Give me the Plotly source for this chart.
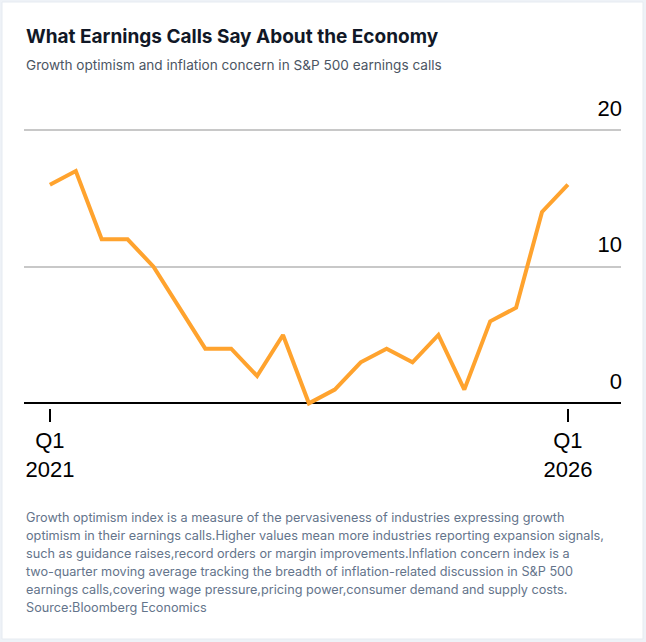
import plotly.graph_objects as go

# quarterly growth optimism index
quarters = [
    "Q1 2021", "Q2 2021", "Q3 2021", "Q4 2021",
    "Q1 2022", "Q2 2022", "Q3 2022", "Q4 2022",
    "Q1 2023", "Q2 2023", "Q3 2023", "Q4 2023",
    "Q1 2024", "Q2 2024", "Q3 2024", "Q4 2024",
    "Q1 2025", "Q2 2025", "Q3 2025", "Q4 2025",
    "Q1 2026",
]
growth_optimism = [16, 17, 12, 12, 10, 7, 4, 4, 2, 5, 0, 1, 3, 4, 3, 5, 1, 6, 7, 14, 16]

y_ticks = [0, 10, 20]
x_ticks = ["Q1 2021", "Q1 2026"]
x_tick_text = ["Q1<br>2021", "Q1<br>2026"]

TITLE = "What Earnings Calls Say About the Economy"
SUBTITLE = "Growth optimism and inflation concern in S&P 500 earnings calls"
NOTE_LINES = [
    "Growth optimism index is a measure of the pervasiveness of industries expressing growth",
    "optimism in their earnings calls.Higher values mean more industries reporting expansion signals,",
    "such as guidance raises,record orders or margin improvements.Inflation concern index is a",
    "two-quarter moving average tracking the breadth of inflation-related discussion in S&P 500",
    "earnings calls,covering wage pressure,pricing power,consumer demand and supply costs.",
    "Source:Bloomberg Economics",
]

W, H = 646, 642
M_L, M_R, M_T, M_B = 24, 25, 80, 234
plot_h = H - M_T - M_B
PX_PER_UNIT = 13.665  # 0 sits at row 403.3, 20 at row 130


def py(pix):
    # pixel row -> paper y
    return (H - M_B - pix) / plot_h


def px(pix):
    return (pix - M_L) / (W - M_L - M_R)


fig = go.Figure()
fig.add_trace(go.Scatter(
    x=quarters,
    y=growth_optimism,
    mode="lines",
    line=dict(color="#FFA32E", width=4),
    hoverinfo="skip",
    showlegend=False,
))

# white card
fig.add_shape(type="rect", xref="paper", yref="paper",
              x0=px(2), x1=px(643), y0=py(639), y1=py(2),
              fillcolor="white", line=dict(color="#e6ebf1", width=1), layer="below")

fig.add_annotation(text="<b>" + TITLE + "</b>", xref="paper", yref="paper",
                   x=0, y=py(36), xanchor="left", yanchor="middle", showarrow=False,
                   font=dict(family="Inter", size=19, color="#111827"))
fig.add_annotation(text=SUBTITLE, xref="paper", yref="paper",
                   x=0, y=py(65), xanchor="left", yanchor="middle", showarrow=False,
                   font=dict(family="Inter", size=13.6, color="#4b5563"))
for i, line in enumerate(NOTE_LINES):
    fig.add_annotation(text=line, xref="paper", yref="paper", align="left",
                       x=0, y=py(517 + 18 * i), xanchor="left", yanchor="middle",
                       showarrow=False,
                       font=dict(family="Inter", size=12.7, color="#64748b"))

y_top = (403.3 - M_T) / PX_PER_UNIT
y_bot = -(H - M_B - 403.3) / PX_PER_UNIT

fig.update_layout(
    width=W, height=H,
    margin=dict(l=M_L, r=M_R, t=M_T, b=M_B),
    paper_bgcolor="#eef2f7",
    plot_bgcolor="rgba(0,0,0,0)",
    font=dict(family="Liberation Sans", color="black"),
    xaxis=dict(
        type="category",
        range=[-1.0, 22.05],
        tickvals=x_ticks,
        ticktext=x_tick_text,
        ticks="outside", ticklen=13, tickwidth=2, tickcolor="black",
        tickfont=dict(size=22, color="black"),
        showgrid=False, showline=False, zeroline=False,
    ),
    yaxis=dict(
        range=[y_bot, y_top],
        side="right",
        tickvals=y_ticks,
        ticklabelposition="inside",
        ticklabelshift=-22,
        ticklabelstandoff=-4,
        tickfont=dict(size=22, color="black"),
        ticks="",
        showgrid=True, gridcolor="#c8c8c8", gridwidth=1.5,
        zeroline=True, zerolinecolor="black", zerolinewidth=2,
        showline=False,
    ),
)

fig.write_html("out.html", config={"displayModeBar": False},
               post_script="document.body.style.margin='0px';")
